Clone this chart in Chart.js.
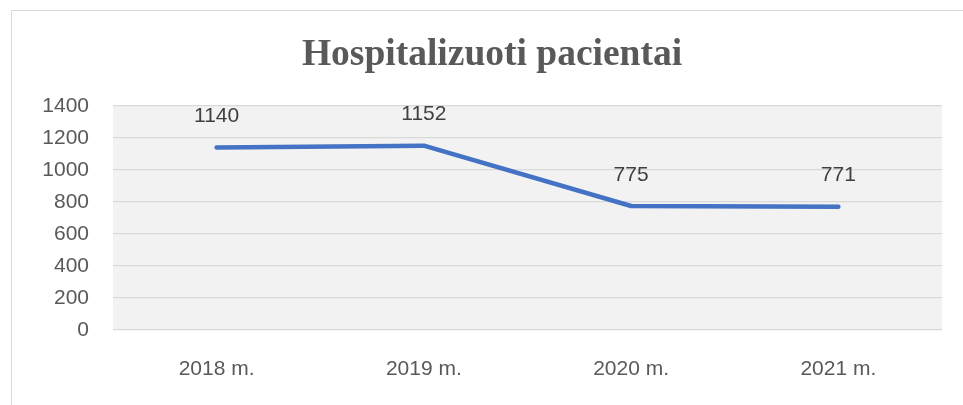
<!DOCTYPE html>
<html>
<head>
<meta charset="utf-8">
<script src="https://cdn.jsdelivr.net/npm/chart.js@4"></script>
<style>
  html, body { margin: 0; padding: 0; background: #fff; }
  #wrap { position: relative; width: 963px; height: 405px; overflow: hidden; }
  #frame { position: absolute; left: 11px; top: 10px; width: 1000px; height: 500px; border: 1px solid #d9d9d9; box-sizing: border-box; }
  canvas { position: absolute; left: 0; top: 0; }
</style>
</head>
<body>
<div id="wrap">
  <div id="frame"></div>
  <canvas id="chartPatients" width="963" height="405"></canvas>
</div>
<script>
const years = ['2018 m.', '2019 m.', '2020 m.', '2021 m.'];
const patients = [1140, 1152, 775, 771];
const yTicks = [0, 200, 400, 600, 800, 1000, 1200, 1400];
const chartTitle = 'Hospitalizuoti pacientai';

// grey plot background + title
const plotBg = {
  id: 'plotBg',
  beforeDraw(chart) {
    const { ctx, chartArea: a } = chart;
    ctx.save();
    ctx.fillStyle = '#f2f2f2';
    ctx.fillRect(a.left, a.top, a.right - a.left, a.bottom - a.top);
    ctx.font = 'bold 37.5px "Liberation Serif", "Times New Roman", serif';
    ctx.fillStyle = '#595959';
    ctx.textAlign = 'center';
    ctx.textBaseline = 'alphabetic';
    ctx.fillText(chartTitle, 492, 65);
    ctx.restore();
  }
};

// value labels above points
const valueLabels = {
  id: 'valueLabels',
  afterDatasetsDraw(chart) {
    const ctx = chart.ctx;
    const meta = chart.getDatasetMeta(0);
    ctx.save();
    ctx.font = '21px "Liberation Sans", Arial, sans-serif';
    ctx.fillStyle = '#404040';
    ctx.textAlign = 'center';
    ctx.textBaseline = 'middle';
    meta.data.forEach((pt, i) => {
      ctx.fillText(String(patients[i]), pt.x, pt.y - 31);
    });
    ctx.restore();
  }
};

const ctx = document.getElementById('chartPatients');
new Chart(ctx, {
  type: 'line',
  data: {
    labels: years,
    datasets: [{
      label: chartTitle,
      data: patients,
      borderColor: '#4472c4',
      borderWidth: 4.5,
      pointRadius: 0,
      tension: 0,
      borderCapStyle: 'round',
      borderJoinStyle: 'round'
    }]
  },
  options: {
    responsive: false,
    animation: false,
    layout: { padding: { left: 0, right: 21, top: 106, bottom: 0 } },
    plugins: {
      legend: { display: false },
      tooltip: { enabled: false },
      title: { display: false }
    },
    scales: {
      x: {
        offset: true,
        grid: { display: false, drawTicks: false },
        border: { display: false },
        ticks: {
          color: '#595959',
          padding: 27,
          font: { family: '"Liberation Sans", Arial, sans-serif', size: 21 }
        },
        afterFit(scale) { scale.height = 75; }
      },
      y: {
        min: 0,
        max: 1400,
        afterBuildTicks(scale) { scale.ticks = yTicks.map(v => ({ value: v })); },
        grid: { color: '#d9d9d9', lineWidth: 1.3, drawTicks: false },
        border: { display: false },
        ticks: {
          color: '#595959',
          padding: 24,
          font: { family: '"Liberation Sans", Arial, sans-serif', size: 21 },
          callback: v => String(v)
        },
        afterFit(scale) { scale.width = 113; }
      }
    }
  },
  plugins: [plotBg, valueLabels]
});
</script>
</body>
</html>
